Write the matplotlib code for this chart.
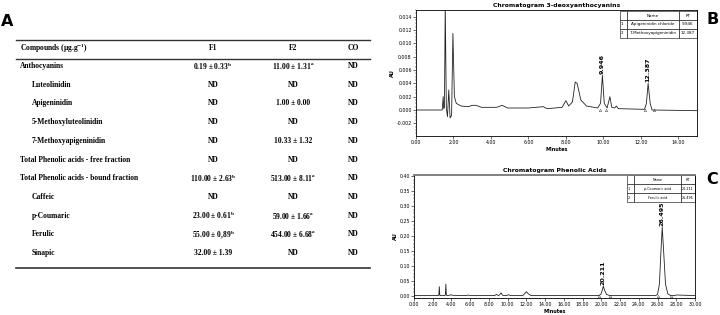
import matplotlib
matplotlib.use("Agg")
import matplotlib.pyplot as plt
from matplotlib.ticker import MultipleLocator

plt.rcParams['mathtext.fontset'] = 'stix'

# ---- table data (panel A) ----
col_heads = ["Compounds (μg.g$^{\\mathbf{-1}}$)", "F1", "F2", "CO"]
compounds = ["Anthocyanins", "Luteolinidin", "Apigeninidin", "5-Methoxyluteolinidin",
             "7-Methoxyapigeninidin", "Total Phenolic acids - free fraction",
             "Total Phenolic acids - bound fraction", "Caffeic", "p-Coumaric",
             "Ferulic", "Sinapic"]
indented = [False, True, True, True, True, False, False, True, True, True, True]
f1_vals = ["0.19 ± 0.33$^{\\mathbf{b}}$", "ND", "ND", "ND", "ND", "ND",
           "110.00 ± 2.63$^{\\mathbf{b}}$", "ND", "23.00 ± 0.61$^{\\mathbf{b}}$",
           "55.00 ± 0,89$^{\\mathbf{b}}$", "32.00 ± 1.39"]
f2_vals = ["11.00 ± 1.31$^{\\mathbf{a}}$", "ND", "1.00 ± 0.00", "ND", "10.33 ± 1.32", "ND",
           "513.00 ± 8.11$^{\\mathbf{a}}$", "ND", "59.00 ± 1.66$^{\\mathbf{a}}$",
           "454.00 ± 6.68$^{\\mathbf{a}}$", "ND"]
co_vals = ["ND"] * 11

# ---- chromatogram B: 3-deoxyanthocyanins ----
b_time = [0.0, 1.40, 1.45, 1.48, 1.52, 1.56, 1.62, 1.68, 1.75, 1.82, 1.90, 1.97, 2.05, 2.15,
          2.40, 2.80, 3.00, 3.20, 3.50, 4.30, 4.60, 4.90, 6.00, 6.80, 7.00, 7.80, 8.00, 8.15,
          8.35, 8.50, 8.60, 8.80, 9.10, 9.70, 9.85, 9.95, 10.05, 10.20, 10.35, 10.45, 10.60,
          10.70, 10.80, 12.20, 12.30, 12.39, 12.50, 12.60, 15.0]
b_au = [0.0000, 0.0000, 0.0020, 0.0002, 0.0004, 0.0160, 0.0002, -0.0010, 0.0030, -0.0012,
        -0.0008, 0.0115, 0.0020, 0.0010, 0.0006, 0.0005, 0.0007, 0.0007, 0.0004, 0.0004,
        0.0007, 0.0003, 0.0003, 0.0005, 0.0002, 0.0004, 0.0014, 0.0006, 0.0012, 0.0042,
        0.0040, 0.0015, 0.0006, 0.0003, 0.0010, 0.0052, 0.0010, 0.0003, 0.0020, 0.0004,
        0.0003, 0.0006, 0.0002, 0.0001, 0.0010, 0.0040, 0.0010, 0.0000, -0.0001]
b_peaks = [9.946, 12.387]
b_peak_au = [0.0052, 0.0040]
b_bounds_t = [9.8, 10.15, 12.25, 12.7]
b_names = ["Apigeninidin chloride", "7-Methoxyapigeninidin"]

# ---- chromatogram C: phenolic acids ----
c_time = [0.0, 2.60, 2.65, 2.70, 2.75, 2.80, 3.30, 3.35, 3.40, 3.45, 3.50, 3.80, 3.90, 4.10,
          5.60, 5.80, 6.00, 8.60, 8.80, 9.00, 9.15, 9.30, 9.45, 9.90, 10.10, 10.30, 11.60,
          11.80, 12.00, 12.20, 12.50, 19.70, 19.95, 20.10, 20.21, 20.35, 20.55, 20.90, 25.80,
          26.00, 26.20, 26.35, 26.50, 26.65, 26.85, 27.10, 27.40, 27.80, 28.00, 30.0]
c_au = [0.002, 0.002, 0.004, 0.032, 0.004, 0.002, 0.002, 0.006, 0.040, 0.006, 0.002, 0.003,
        0.005, 0.003, 0.002, 0.004, 0.002, 0.002, 0.006, 0.002, 0.005, 0.011, 0.003, 0.002,
        0.005, 0.002, 0.002, 0.008, 0.015, 0.008, 0.002, 0.002, 0.006, 0.020, 0.033, 0.020,
        0.006, 0.002, 0.002, 0.006, 0.040, 0.140, 0.230, 0.150, 0.040, 0.008, 0.002, 0.002,
        0.004, 0.002]
c_peaks = [20.211, 26.495]
c_peak_au = [0.033, 0.230]
c_bounds_t = [19.8, 20.9, 26.0, 27.4]
c_names = ["p-Coumaric acid", "Ferulic acid"]

W, H = 720, 315
fig = plt.figure(figsize=(W / 100, H / 100), dpi=100)

# ---- panel A: table drawn in pixel space ----
ax = fig.add_axes([0, 0, 1, 1])
ax.set_xlim(0, W)
ax.set_ylim(H, 0)
ax.axis('off')
serif = dict(family='Liberation Serif', weight='bold', fontsize=5.45, va='center')
letter = dict(fontsize=11.5, weight='bold', family='DejaVu Sans', va='center', ha='center')
ax.text(7, 21, "A", **letter)
ax.text(713, 19, "B", **letter)
ax.text(712, 180, "C", **letter)

ax.plot([16, 370], [40, 40], color='#333333', lw=1.0)
ax.plot([16, 370], [59, 59], color='#333333', lw=1.0)
ax.plot([16, 370], [268, 268], color='#333333', lw=1.2)
col_x = [20, 213, 293, 353]
ax.text(col_x[0], 48, col_heads[0], ha='left', **serif)
for x, s in zip(col_x[1:], col_heads[1:]):
    ax.text(x, 48, s, ha='center', **serif)
row_y0, row_step = 66, 18.7
for i, name in enumerate(compounds):
    y = row_y0 + i * row_step
    ax.text(32 if indented[i] else col_x[0], y, name, ha='left', **serif)
    ax.text(col_x[1], y, f1_vals[i], ha='center', **serif)
    ax.text(col_x[2], y, f2_vals[i], ha='center', **serif)
    ax.text(col_x[3], y, co_vals[i], ha='center', **serif)


def chromatogram(rect, t, au, peaks, peak_au, bounds, names, title, xlim, ylim,
                 xstep, ystep, yfmt, inset):
    a = fig.add_axes(rect)
    a.plot(t, au, color='#222222', lw=0.6)
    a.set_xlim(*xlim)
    a.set_ylim(*ylim)
    a.xaxis.set_major_locator(MultipleLocator(xstep))
    a.xaxis.set_minor_locator(MultipleLocator(xstep / 4))
    a.yaxis.set_major_locator(MultipleLocator(ystep))
    a.yaxis.set_minor_locator(MultipleLocator(ystep / 4))
    a.xaxis.set_major_formatter(lambda v, p: f"{v:.2f}")
    a.yaxis.set_major_formatter(lambda v, p: yfmt.format(v))
    a.tick_params(labelsize=3.4, length=2, width=0.4, pad=1)
    a.tick_params(which='minor', length=1, width=0.3)
    for s in a.spines.values():
        s.set_linewidth(0.6)
    a.set_title(title, fontsize=4.4, weight='bold', pad=2)
    a.set_xlabel("Minutes", fontsize=3.6, weight='bold', labelpad=1)
    a.set_ylabel("AU", fontsize=3.6, weight='bold', labelpad=1)
    span = ylim[1] - ylim[0]
    for p, h in zip(peaks, peak_au):
        a.text(p, h + span * 0.01, f"{p:.3f}", rotation=90, ha='center', va='bottom',
               fontsize=4.6, weight='bold')
    a.plot(bounds, [0.0] * len(bounds), ls='none', marker='^', ms=1.8, mfc='none',
           mec='#333333', mew=0.3)
    cells = [["", "Name", "RT"]] + [[str(i + 1), n, f"{p:.3f}"]
                                   for i, (n, p) in enumerate(zip(names, peaks))]
    tb = a.table(cellText=cells, bbox=inset[0], colWidths=inset[1], cellLoc='center')
    tb.auto_set_font_size(False)
    for (r, c), cell in tb.get_celld().items():
        cell.set_linewidth(0.4)
        cell.set_facecolor('white')
        cell.get_text().set_fontsize(inset[2])
        if c == 0 and r > 0:
            cell.get_text().set_ha('left')
    return a


chromatogram([416 / W, 1 - 136 / H, 281 / W, 126 / H], b_time, b_au, b_peaks, b_peak_au,
             b_bounds_t, b_names, "Chromatogram 3-deoxyanthocyanins", (0, 15.0),
             (-0.0039, 0.0150), 2.0, 0.002, "{:.3f}",
             ([0.726, 0.778, 0.274, 0.214], [7, 52, 18], 3.0))
ac = chromatogram([414 / W, 1 - 298 / H, 281 / W, 123 / H], c_time, c_au, c_peaks, c_peak_au,
                  c_bounds_t, c_names, "Chromatogram Phenolic Acids", (0, 30),
                  (-0.006, 0.403), 2.0, 0.05, "{:.2f}",
                  ([0.758, 0.78, 0.242, 0.22], [7, 47, 14], 2.4))
ac.spines['top'].set_linewidth(1.3)
ac.spines['top'].set_color('#777777')

fig.savefig("out.png", dpi=100)
